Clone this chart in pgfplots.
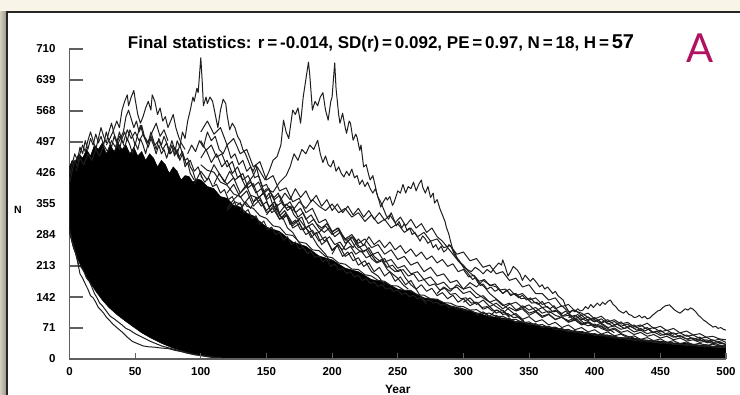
\documentclass[border=0pt]{standalone}
\usepackage{pgfplots}
\pgfplotsset{compat=1.18}
\usepackage{fontspec}
\setmainfont{Liberation Sans}
\newfontfamily\latofont{Lato}
\definecolor{cream}{RGB}{248,245,232}
\definecolor{amag}{RGB}{176,18,98}
\definecolor{axgray}{RGB}{95,95,95}
\tikzset{traj/.style={black!88, line width=1pt, line join=round}}
\begin{document}
\begin{tikzpicture}[x=1pt,y=1pt]
\useasboundingbox (0,0) rectangle (740,395);
\fill[cream] (0,0) rectangle (740,395);
\shade[left color={rgb,255:red,210;green,205;blue,188}, right color={rgb,255:red,160;green,156;blue,140}] (0,0) rectangle (6,383);
\fill[white] (7,-5) rectangle (745,383);
\draw[line width=2.2, color=black!85] (7,-5) -- (7,383) -- (745,383);
\node[anchor=base, font=\bfseries\fontsize{17}{19}\selectfont] at (381,346)
 {Final statistics: r\,=\,-0.014, SD(r)\,=\,0.092, PE\,=\,0.97, N\,=\,18, H\,=\,{\fontsize{20}{22}\selectfont 57}};
\node[anchor=base, text=amag, font=\latofont\fontsize{40}{44}\selectfont] at (700,332) {A};
\begin{axis}[
  at={(69.5pt,36pt)}, anchor=origin, scale only axis, width=656.5pt, height=310pt,
  xmin=0, xmax=500, ymin=0, ymax=710,
  axis x line=bottom, axis y line=left,
  axis line style={-, draw=axgray, line width=1.1pt},
  xtick={0,50,...,500}, ytick={0,71,142,213,284,355,426,497,568,639,710},
  tick align=inside, major tick length=13pt,
  tick style={draw=axgray, line width=1.1pt},
  xtick style={draw=none},
  /pgf/number format/assume math mode=true,
  tick label style={font=\bfseries\fontsize{11.5}{12}\selectfont},
  yticklabel style={xshift=-10.5pt},
  xticklabel style={yshift=-5pt},
  xlabel={Year}, ylabel={N},
  xlabel style={at={(axis description cs:0.5,-0.097)}, anchor=center, font=\bfseries\fontsize{12}{13}\selectfont},
  ylabel style={at={(axis description cs:-0.0784,0.48)}, rotate=-90, anchor=center, font=\bfseries\fontsize{10.5}{11}\selectfont},
]
% dense mass of trajectories
\addplot[fill=black, draw=black, line width=0.5pt] coordinates {
(0,290)(3,255)(6,230)(10,205)(15,178)(20,155)(25,135)(30,118)(36,102)(42,88)(48,75)(55,60)(62,48)(70,36)(78,26)(86,18)(95,11)(105,6)(115,3)(125,0)(500,0)
(500,28)(495,31)(490,29)(485,33)(480,32)(470,36)(460,37)(450,41)(440,43)(430,48)(420,49)(410,55)(400,57)(390,63)(380,65)(370,72)(360,75)(350,82)(340,86)(330,94)(320,97)(310,106)(300,115)(290,122)(280,136)(270,140)(260,155)(250,160)(240,176)(230,182)(220,200)(210,208)(200,227)(190,236)(180,258)(170,268)(160,292)(150,302)(140,328)(135,334)(130,348)(125,352)(120,368)(115,372)(110,390)(105,395)(100,410)(97,412)(94,405)(91,418)(88,420)(85,410)(82,430)(79,440)(76,425)(73,445)(70,455)(67,440)(64,460)(61,470)(58,455)(55,475)(52,465)(49,485)(46,470)(43,490)(40,480)(37,495)(34,475)(31,490)(28,470)(25,495)(22,480)(19,490)(16,465)(13,480)(10,460)(7,470)(4,450)(2,455)(0,440)};
% early extinct lines
\addplot[traj] coordinates {(0,300)(2,270)(4,250)(6,225)(8,195)(10,185)(12,172)(14,160)(16,145)(18,140)(20,130)(22,118)(24,112)(26,105)(28,96)(30,90)(33,80)(36,72)(40,62)(44,50)(48,40)(52,35)(56,30)(60,28)(65,27)(70,25)(75,24)(80,20)(85,17)(90,13)(95,10)(100,8)(105,5)(110,3)(115,1)(118,0)};
\addplot[traj] coordinates {(0,290)(3,255)(5,240)(7,215)(9,210)(11,200)(13,185)(15,178)(17,165)(19,150)(21,140)(23,128)(25,122)(28,110)(31,98)(34,92)(37,85)(40,78)(43,70)(46,66)(50,58)(54,52)(58,46)(62,40)(66,35)(70,30)(75,26)(80,22)(85,18)(90,14)(95,10)(100,8)(105,6)(110,4)(115,2)(120,0)};
% spiky top of the mass
\addplot[traj] coordinates {(0,420)(2,445)(4,470)(6,455)(8,485)(10,470)(12,500)(14,480)(16,505)(18,490)(20,515)(22,495)(24,510)(26,490)(28,520)(30,500)(32,485)(34,510)(36,495)(38,520)(40,500)(42,485)(44,505)(46,490)(48,470)(50,495)(52,480)(54,505)(56,490)(58,470)(60,495)(62,520)(64,500)(66,480)(68,505)(70,490)(72,510)(74,495)(76,470)(78,490)(80,465)(82,480)(84,455)(86,470)(88,440)(90,450)(92,425)(95,410)};
\addplot[traj] coordinates {(0,400)(2,430)(4,455)(6,440)(8,470)(10,490)(12,475)(14,500)(16,520)(18,500)(20,480)(22,505)(24,530)(26,510)(28,495)(30,520)(32,540)(34,515)(36,500)(38,480)(40,505)(42,520)(44,500)(46,525)(48,510)(50,490)(52,515)(54,535)(56,515)(58,500)(60,485)(62,505)(64,490)(66,470)(68,490)(70,470)(72,480)(74,460)(76,480)(78,500)(80,480)(82,470)(84,490)(86,470)(88,455)(90,460)(92,440)(94,430)(96,410)};
\addplot[traj] coordinates {(5,430)(8,460)(11,445)(14,470)(17,455)(20,480)(23,465)(26,490)(29,475)(32,500)(35,485)(38,510)(41,495)(44,525)(47,505)(50,520)(53,500)(56,515)(59,495)(62,510)(65,490)(68,500)(71,480)(74,495)(77,470)(80,485)(83,460)(86,475)(89,445)(92,455)(95,430)(98,440)(101,415)};
% lines hugging the mass
\addplot[traj] coordinates {(100,420)(103,405)(106,415)(109,395)(112,400)(115,380)(118,388)(121,365)(124,372)(127,350)(130,358)(133,335)(136,342)(139,322)(142,328)(145,308)(148,316)(151,296)(154,302)(157,285)(160,290)(163,272)(166,280)(169,262)(172,268)(175,252)(178,256)(181,242)(184,246)(187,232)(190,236)(193,222)(196,228)(199,212)(202,218)(205,204)(208,208)(211,196)(214,200)(217,188)(220,192)(223,180)(226,184)(229,173)(232,176)(235,166)(238,170)(241,160)(244,163)(247,154)(250,158)(253,148)(256,151)(259,143)(262,146)(265,138)(268,141)(271,132)(274,135)(277,128)(280,130)(283,123)(286,126)(289,118)(292,121)(295,114)(298,117)(301,110)(305,112)(310,104)(315,106)(320,97)(325,100)(330,90)(335,93)(340,84)(345,87)(350,78)(355,81)(360,72)(365,75)(370,67)(375,70)(380,62)(385,65)(390,58)(395,60)(400,54)(405,56)(410,50)(415,52)(420,46)(425,48)(430,42)(435,45)(440,39)(445,41)(450,36)(455,38)(460,33)(465,35)(470,31)(475,33)(480,29)(485,31)(490,27)(495,29)(500,25)};
\addplot[traj] coordinates {(100,445)(105,432)(110,428)(115,405)(120,398)(125,378)(130,372)(135,350)(140,345)(145,328)(150,322)(155,305)(160,302)(165,285)(170,283)(175,268)(180,265)(185,250)(190,248)(195,235)(200,232)(205,220)(210,217)(215,206)(220,205)(225,193)(230,190)(235,180)(240,178)(245,168)(250,167)(255,157)(260,157)(265,147)(270,146)(275,138)(280,137)(285,129)(290,128)(295,121)(300,120)(305,112)(310,113)(315,104)(320,105)(325,97)(330,98)(335,90)(340,91)(345,83)(350,85)(355,77)(360,79)(365,72)(370,73)(375,66)(380,68)(385,61)(390,63)(395,57)(400,58)(405,53)(410,54)(415,48)(420,49)(425,45)(430,46)(435,41)(440,43)(445,38)(450,39)(455,35)(460,36)(465,32)(470,34)(475,30)(480,31)(485,28)(490,29)(495,26)(500,27)};
\addplot[traj] coordinates {(100,500)(104,478)(108,490)(112,462)(116,470)(120,440)(124,452)(128,415)(132,425)(136,392)(140,402)(144,370)(148,380)(152,348)(156,360)(160,328)(164,340)(168,308)(172,318)(176,296)(180,302)(184,278)(188,290)(192,262)(196,272)(200,248)(204,260)(208,235)(212,245)(216,225)(220,232)(224,212)(228,220)(232,200)(236,210)(240,190)(244,200)(248,178)(252,188)(256,170)(260,180)(264,160)(268,170)(272,155)(276,162)(280,145)(284,152)(288,138)(292,146)(296,130)(300,138)(305,122)(310,130)(315,114)(320,120)(325,105)(330,112)(335,98)(340,104)(345,91)(350,97)(355,85)(360,90)(365,78)(370,84)(375,72)(380,78)(385,67)(390,72)(395,62)(400,67)(405,57)(410,62)(415,53)(420,57)(425,49)(430,53)(435,45)(440,49)(445,42)(450,46)(455,38)(460,42)(465,35)(470,39)(475,33)(480,36)(485,31)(490,34)(495,29)(500,31)};
\addplot[traj] coordinates {(100,520)(105,545)(110,515)(115,530)(120,490)(125,505)(130,470)(135,480)(140,440)(145,452)(150,410)(155,420)(160,385)(165,392)(170,360)(175,368)(180,335)(185,345)(190,312)(195,320)(200,292)(205,300)(210,272)(215,280)(220,255)(225,262)(230,238)(235,245)(240,222)(245,228)(250,208)(255,214)(260,195)(265,200)(270,182)(275,188)(280,170)(285,176)(290,160)(295,165)(300,150)(305,155)(310,140)(315,145)(320,130)(325,136)(330,122)(335,128)(340,113)(345,118)(350,105)(355,110)(360,98)(365,103)(370,91)(375,96)(380,84)(385,89)(390,78)(395,83)(400,72)(405,76)(410,66)(415,71)(420,61)(425,65)(430,56)(435,61)(440,52)(445,56)(450,48)(455,52)(460,44)(465,48)(470,41)(475,44)(480,38)(485,41)(490,35)(495,38)(500,33)};
% outliers
\addplot[traj] coordinates {(80,470)(82,500)(84,485)(86,520)(88,505)(90,545)(92,570)(94,600)(95,590)(97,620)(98,610)(99,650)(100,690)(101,640)(102,580)(104,600)(105,585)(107,600)(109,590)(111,560)(113,530)(115,570)(117,595)(119,585)(120,560)(122,525)(124,540)(126,530)(128,510)(130,500)(132,480)(134,470)(136,455)(138,440)(140,430)(142,445)(144,420)(146,400)(148,385)(150,370)(152,380)(154,360)(156,345)(158,355)(160,330)(163,320)(166,300)(170,290)(174,270)(178,255)(182,240)};
\addplot[traj] coordinates {(28,490)(30,500)(33,520)(36,545)(38,530)(40,570)(42,590)(44,605)(45,580)(47,600)(49,615)(50,595)(52,560)(54,540)(56,555)(58,575)(60,590)(62,570)(63,605)(65,590)(67,560)(69,575)(71,545)(73,555)(75,530)(77,545)(79,560)(81,530)(83,510)(85,495)(88,480)};
\addplot[traj] coordinates {(35,480)(38,500)(41,520)(43,555)(45,570)(47,550)(49,530)(51,545)(53,520)(55,535)(57,510)(60,495)(63,520)(66,540)(69,510)(72,525)(75,500)};
\addplot[traj] coordinates {(120,345)(125,365)(130,380)(135,400)(140,420)(143,440)(146,425)(149,410)(152,430)(155,455)(158,463)(161,490)(163,547)(165,520)(167,505)(170,570)(172,560)(174,575)(176,540)(178,600)(180,640)(182,680)(183,650)(185,570)(187,590)(189,580)(191,600)(193,610)(195,570)(197,547)(199,590)(200,600)(201,640)(202,678)(203,620)(205,560)(206,540)(208,563)(210,530)(211,517)(213,545)(214,540)(216,501)(218,515)(219,508)(221,478)(222,490)(224,440)(226,445)(228,420)(229,410)(231,420)(233,395)(234,380)(236,360)(237,348)(239,360)(241,370)(242,364)(244,372)(246,352)(247,357)(249,375)(250,385)(252,380)(254,400)(256,380)(258,395)(260,390)(262,405)(264,385)(266,400)(268,410)(269,394)(271,380)(273,395)(275,370)(277,380)(278,357)(280,365)(282,345)(284,330)(286,315)(287,302)(289,285)(290,272)(292,250)(294,240)(296,225)(298,218)(300,212)(303,205)(306,200)(309,210)(312,204)(315,195)(318,205)(321,198)(324,210)(327,220)(329,215)(330,227)(332,210)(334,190)(336,200)(338,212)(341,204)(343,195)(345,180)(347,192)(349,185)(351,178)(353,185)(356,174)(358,165)(360,170)(362,160)(364,165)(366,158)(368,150)(370,155)(372,145)(374,140)(376,135)(378,120)(380,110)(381,105)(383,112)(385,108)(387,115)(389,110)(391,112)(393,120)(395,115)(397,125)(399,118)(402,128)(404,122)(406,130)(408,125)(410,132)(412,135)(414,125)(416,120)(418,112)(420,108)(422,105)(424,110)(426,102)(428,100)(430,95)(432,96)(434,100)(436,94)(438,98)(440,92)(442,94)(444,100)(446,105)(448,110)(450,112)(452,118)(454,122)(457,124)(459,118)(461,112)(463,108)(465,105)(467,110)(469,115)(471,112)(473,117)(475,114)(477,108)(479,100)(481,95)(483,89)(485,85)(487,80)(489,76)(490,73)(492,75)(494,70)(496,72)(498,68)(500,66)};
\addplot[traj] coordinates {(120,340)(126,360)(132,352)(138,375)(144,368)(150,390)(155,382)(160,405)(165,420)(168,440)(171,470)(174,455)(177,480)(180,470)(183,490)(186,480)(189,501)(191,470)(193,450)(195,465)(197,445)(199,440)(201,455)(203,430)(205,440)(207,425)(209,417)(211,430)(213,420)(215,435)(217,415)(219,420)(221,400)(223,410)(225,395)(227,405)(229,390)(231,380)(233,390)(235,370)(237,360)(239,345)(241,330)(243,320)(245,335)(247,320)(249,305)(251,315)(253,300)(255,310)(257,295)(259,300)(261,285)(263,290)(265,280)(267,270)(269,282)(271,275)(273,265)(275,270)(277,255)(279,262)(281,250)(283,258)(285,245)(287,250)(289,262)(291,255)(293,240)(295,232)(297,225)(299,215)(301,205)(303,198)(305,190)(307,182)(309,186)(311,175)(313,168)(315,172)(318,160)(321,165)(324,155)(327,160)(330,150)(333,158)(336,145)(339,150)(342,140)(345,146)(348,135)(351,140)(354,130)(357,125)(360,132)(363,120)(366,115)(369,122)(372,110)(375,104)(378,110)(381,100)(384,96)(387,102)(390,94)(393,88)(396,92)(399,86)(402,90)(405,82)(408,86)(411,80)(414,75)(417,80)(420,74)(423,70)(426,76)(429,72)(432,66)(435,70)(438,64)(441,68)(444,60)(447,64)(450,58)(453,55)(456,60)(459,54)(462,50)(465,54)(468,48)(471,45)(474,48)(477,42)(480,45)(483,40)(486,37)(489,40)(492,35)(495,32)(498,30)(500,27)};
% fringe lines
\addplot[traj] coordinates {(95,400)(100,430)(105,410)(110,445)(115,420)(120,400)(125,415)(130,380)(135,395)(140,360)(145,370)(150,340)(155,355)(160,320)(165,335)(170,300)(175,310)(180,285)(185,295)(190,270)(195,280)(200,250)(205,262)(210,235)(215,245)(220,215)(225,225)(230,200)(235,190)(240,170)};
\addplot[traj] coordinates {(100,460)(104,480)(108,450)(112,470)(116,440)(120,455)(124,425)(128,440)(132,410)(136,420)(140,395)(144,405)(148,380)(152,390)(156,365)(160,375)(164,350)(168,360)(172,335)(176,345)(180,320)(184,330)(188,310)(192,300)(196,310)(200,290)(204,300)(208,280)(212,270)(216,280)(220,260)(224,245)(228,255)(232,235)(236,225)(240,230)(244,210)(248,200)(252,205)(256,185)(260,170)(264,160)(268,140)(272,125)};
\addplot[traj] coordinates {(120,380)(125,400)(130,370)(135,385)(140,350)(145,365)(150,335)(155,345)(160,320)(165,330)(170,305)(175,320)(180,300)(185,310)(190,290)(195,305)(200,285)(205,295)(210,275)(215,285)(220,265)(225,275)(230,255)(235,262)(240,240)(245,250)(250,228)(255,235)(260,215)(265,222)(270,200)(275,210)(280,190)(285,195)(290,175)(295,180)(300,160)(305,165)(310,150)(315,140)(320,130)(325,120)(330,110)(335,95)};
\addplot[traj] coordinates {(160,360)(164,380)(168,365)(172,390)(176,370)(180,385)(184,360)(188,375)(192,350)(196,365)(200,340)(204,355)(208,335)(212,350)(216,330)(220,345)(224,325)(228,340)(232,320)(236,335)(240,318)(244,330)(248,312)(252,325)(256,305)(260,320)(264,300)(268,310)(272,290)(276,300)(280,280)(284,270)(288,255)(292,240)(296,225)(300,215)(304,200)(308,190)(312,175)(316,165)(320,150)(324,140)(328,130)(332,120)(336,110)(340,100)(344,90)(348,80)};
\addplot[traj] coordinates {(150,330)(155,350)(160,335)(165,355)(170,340)(175,360)(180,345)(185,365)(190,350)(195,340)(200,355)(205,335)(210,345)(215,325)(220,335)(225,315)(230,330)(235,310)(240,320)(245,300)(250,310)(255,290)(260,300)(265,280)(270,290)(275,270)(280,275)(285,255)(290,260)(295,240)(300,245)(305,225)(310,230)(315,210)(320,215)(325,195)(330,200)(335,180)(340,185)(345,165)(350,170)(355,150)(360,150)(365,135)(370,140)(375,120)(380,125)(385,110)(390,105)(395,95)(400,90)(405,80)(410,70)(415,60)};
\addplot[traj] coordinates {(280,150)(285,165)(290,155)(295,170)(300,160)(305,175)(310,165)(315,180)(320,170)(325,165)(330,150)(335,160)(340,145)(345,150)(350,135)(355,140)(360,125)(365,130)(370,115)(375,122)(380,108)(385,112)(390,100)(395,105)(400,92)(405,98)(410,85)(415,90)(420,80)(425,84)(430,74)(435,78)(440,68)(445,72)(450,62)(455,66)(460,57)(465,60)(470,52)(475,55)(480,47)(485,50)(490,42)(495,45)(500,38)};
\addplot[traj] coordinates {(300,130)(305,140)(310,125)(315,135)(320,120)(325,128)(330,115)(335,125)(340,130)(345,118)(350,124)(355,110)(360,118)(365,105)(370,112)(375,98)(380,105)(385,92)(390,100)(395,88)(400,95)(405,84)(410,90)(415,78)(420,85)(425,72)(430,78)(435,66)(440,72)(445,60)(450,66)(455,55)(460,60)(465,50)(470,55)(475,45)(480,50)(485,40)(490,44)(495,36)(500,34)};
\addplot[traj] coordinates {(340,110)(345,115)(350,100)(355,108)(360,95)(365,102)(370,90)(375,96)(380,85)(385,90)(390,80)(395,86)(400,76)(405,82)(410,72)(415,76)(420,68)(425,72)(430,62)(435,66)(440,58)(445,62)(450,54)(455,57)(460,50)(465,53)(470,46)(475,48)(480,42)(485,44)(490,38)(495,40)(500,33)};
\addplot[traj] coordinates {(380,95)(385,100)(390,90)(395,96)(400,85)(405,92)(410,80)(415,86)(420,75)(425,80)(430,70)(435,75)(440,82)(445,70)(450,75)(455,65)(460,70)(465,60)(470,64)(475,55)(480,58)(485,50)(490,52)(495,46)(500,44)};
\addplot[traj] coordinates {(310,100)(315,108)(320,98)(325,112)(330,105)(335,118)(340,110)(345,122)(350,112)(355,118)(360,105)(365,110)(370,100)(375,95)(380,88)(385,94)(390,82)(395,76)(400,80)(405,70)(410,64)(415,68)(420,58)(425,52)(430,48)};
\addplot[traj] coordinates {(90,470)(93,490)(96,475)(99,500)(102,485)(105,520)(108,500)(111,510)(114,480)(117,470)(120,490)(123,460)(126,470)(129,445)(132,455)(135,430)(138,440)(141,415)(144,420)(147,395)(150,400)(153,380)(156,370)(159,380)(162,355)(165,345)(168,350)(171,330)(174,320)(177,325)(180,300)(183,290)(186,275)(189,260)(192,250)(195,240)(198,225)};
\addplot[traj] coordinates {(110,400)(114,425)(118,405)(122,430)(126,410)(130,420)(134,395)(138,405)(142,380)(146,390)(150,365)(154,375)(158,350)(162,360)(166,340)(170,350)(174,325)(178,335)(182,310)(186,320)(190,300)(194,290)(198,300)(202,280)(206,290)(210,265)(214,275)(218,255)(222,245)(226,250)(230,230)(234,220)(238,225)(242,205)(246,195)(250,185)(254,170)(258,160)};
\addplot[traj] coordinates {(130,340)(134,360)(138,345)(142,370)(146,350)(150,360)(154,335)(158,345)(162,320)(166,330)(170,310)(174,318)(178,295)(182,305)(186,285)(190,290)(194,270)(198,280)(202,262)(206,268)(210,250)(214,258)(218,240)(222,248)(226,232)(230,238)(234,222)(238,228)(242,210)(246,215)(250,200)(254,205)(258,190)(262,195)(266,178)(270,182)(274,168)(278,172)(282,158)(286,162)(290,148)(294,150)(298,138)(302,140)(306,128)(310,130)(314,118)(318,120)(322,110)(326,112)(330,102)(334,104)(338,95)(342,96)(346,88)};
\addplot[traj] coordinates {(200,240)(204,262)(208,250)(212,270)(216,255)(220,275)(224,260)(228,280)(232,262)(236,272)(240,255)(244,268)(248,250)(252,260)(256,242)(260,252)(264,235)(268,245)(272,228)(276,236)(280,220)(284,228)(288,212)(292,218)(296,200)(300,205)(304,188)(308,192)(312,178)(316,182)(320,168)(324,172)(328,158)(332,160)(336,148)(340,150)(344,138)(348,140)(352,128)(356,130)(360,118)(364,120)(368,108)(372,110)(376,98)(380,100)(384,90)(388,92)(392,82)(396,84)(400,75)(404,76)(408,68)};
\end{axis}
% overlay axis for the short x ticks
\begin{axis}[
  at={(69.5pt,36pt)}, anchor=origin, scale only axis, width=656.5pt, height=310pt,
  xmin=0, xmax=500, ymin=0, ymax=710,
  axis x line=bottom, axis y line=none,
  axis line style={-, draw=axgray, line width=1.1pt},
  xtick={0,50,...,500}, xticklabels={}, ytick=\empty,
  tick align=inside, major tick length=6pt,
  tick style={draw=axgray, line width=1.1pt},
]
\end{axis}
\end{tikzpicture}
\end{document}
